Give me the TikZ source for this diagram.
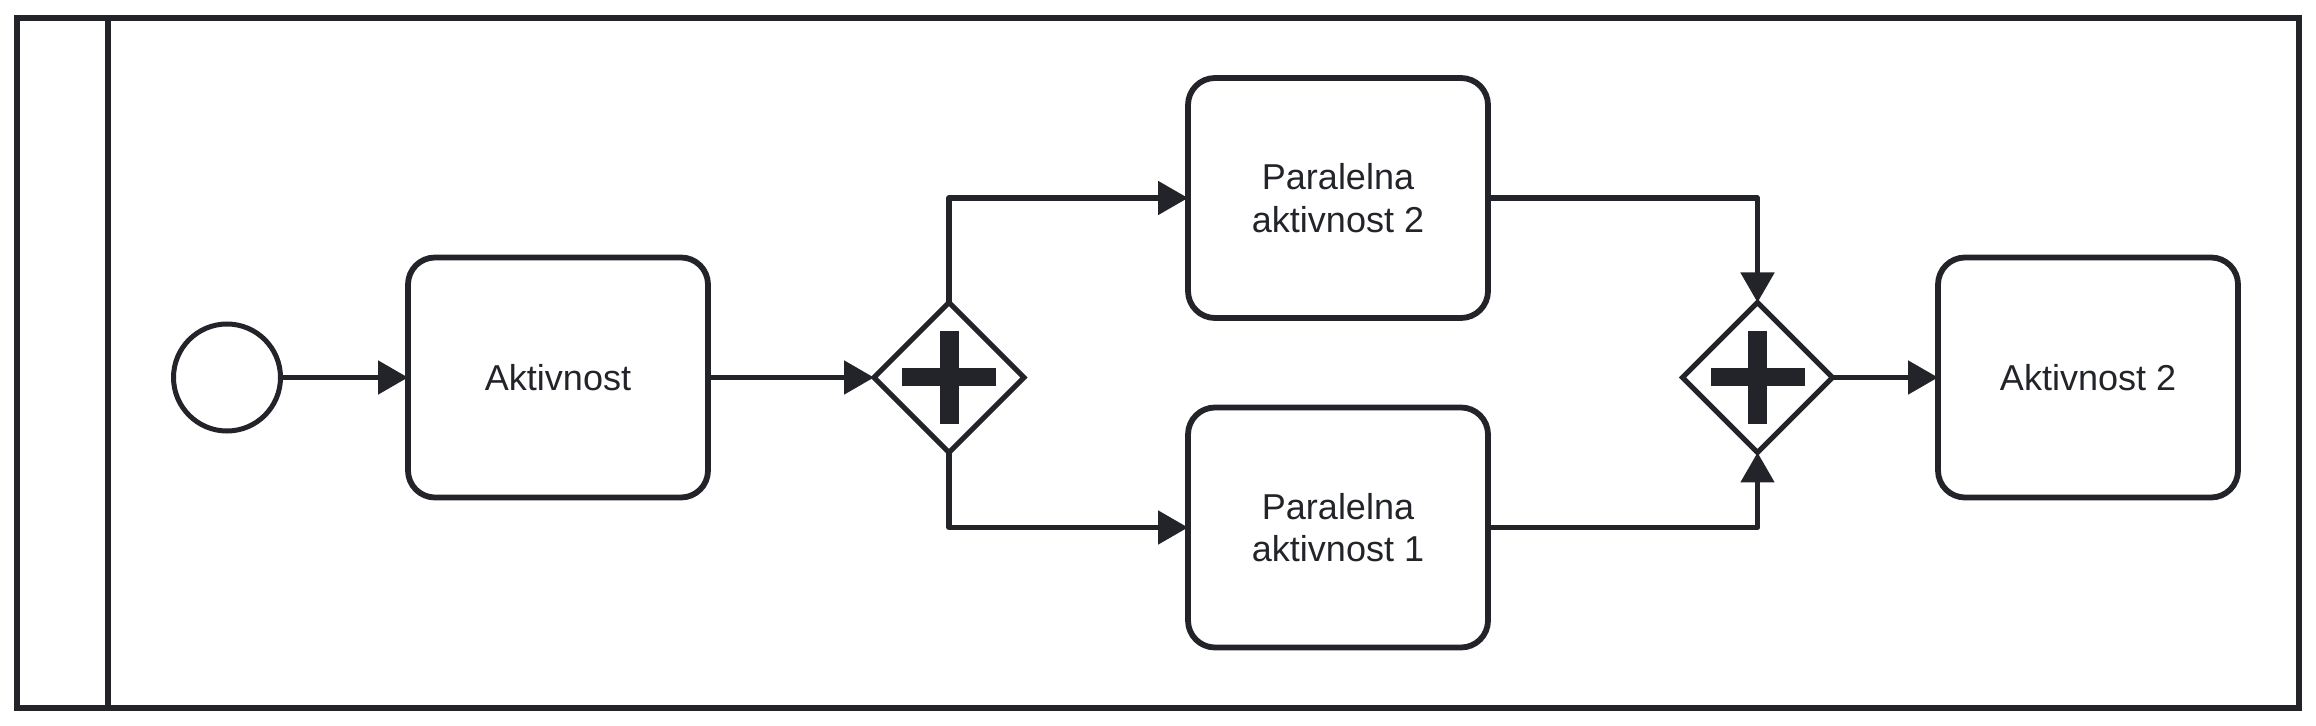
\documentclass[tikz,border=0pt]{standalone}
\usepackage{fontspec}
\setmainfont{Liberation Sans}
\usetikzlibrary{shapes.geometric,arrows.meta}
\definecolor{ink}{HTML}{22242A}
\tikzset{
  poolbox/.style={draw=ink, line width=3pt, rectangle, inner sep=0pt, outer sep=0pt,
    minimum width=1141pt, minimum height=344.75pt},
  startev/.style={draw=ink, line width=2.5pt, circle, fill=white, inner sep=0pt, outer sep=0pt,
    minimum size=53.5pt},
  taskbox/.style={draw=ink, line width=2.9pt, rectangle, rounded corners=13.5pt, fill=white,
    inner sep=0pt, outer sep=0pt, minimum width=150pt, minimum height=120pt,
    align=center, text=ink, font=\fontsize{18pt}{21.3pt}\selectfont},
  gateway/.style={draw=ink, line width=2.5pt, diamond, aspect=1, fill=white, inner sep=0pt,
    outer sep=0pt, minimum width=75pt, minimum height=75pt,
    path picture={
      \fill[ink] ([shift={(-47,-9)}]path picture bounding box.center) rectangle ++(94,18);
      \fill[ink] ([shift={(-9.5,-46.5)}]path picture bounding box.center) rectangle ++(19,93);
    }},
  flow/.style={draw=ink, line width=2.6pt, line join=round,
    -{Triangle[length=15pt,width=16.5pt]}},
}
\begin{document}
\begin{tikzpicture}[x=0.5pt,y=-0.5pt]
\useasboundingbox (0,0) rectangle (2316,726);
\node[poolbox] (pool) at (1158,362.75) {};
\draw[draw=ink, line width=3pt] ([xshift=45.5pt]pool.north west) -- ([xshift=45.5pt]pool.south west);

\node[startev] (start) at (227,377.5) {};
\node[taskbox] (t1) at (558,377.5) {Aktivnost};
\node[gateway] (gw1) at (949,377.5) {};
\node[taskbox] (p2) at (1338,198) {Paralelna\\aktivnost 2};
\node[taskbox] (p1) at (1338,527.5) {Paralelna\\aktivnost 1};
\node[gateway] (gw2) at (1757.5,377.5) {};
\node[taskbox] (a2) at (2088,377.5) {Aktivnost 2};

\draw[flow] (start) -- (t1);
\draw[flow] (t1) -- (gw1);
\draw[flow] (gw1.north) |- (p2.west);
\draw[flow] (gw1.south) |- (p1.west);
\draw[flow] (p2.east) -| (gw2.north);
\draw[flow] (p1.east) -| (gw2.south);
\draw[flow] (gw2) -- (a2);
\end{tikzpicture}
\end{document}
